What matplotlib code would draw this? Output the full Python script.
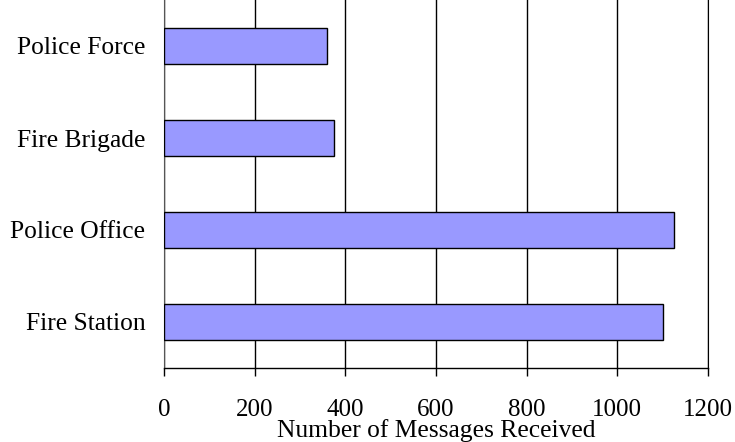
import matplotlib
matplotlib.use("Agg")
import matplotlib.pyplot as plt

# message counts per agent type (bottom to top)
categories = ["Fire Station", "Police Office", "Fire Brigade", "Police Force"]
messages = [1100, 1125, 375, 360]
xticks = [0, 200, 400, 600, 800, 1000, 1200]

plt.rcParams["font.family"] = ["Liberation Serif", "DejaVu Serif"]

fig = plt.figure(figsize=(7.35, 4.42), dpi=100)
ax = fig.add_axes([164 / 735, 1 - 368 / 442, 544 / 735, 368 / 442])

ax.barh(range(len(categories)), messages, height=0.4,
        color="#9999ff", edgecolor="black", linewidth=1.0, zorder=3)

ax.set_xlim(0, 1200)
ax.set_ylim(-0.5, len(categories) - 0.5)
ax.set_xticks(xticks)
ax.set_xticklabels([str(t) for t in xticks], fontsize=18)
ax.set_yticks(range(len(categories)))
ax.set_yticklabels(categories, fontsize=18.4)
ax.tick_params(axis="y", length=0, pad=13.5)
ax.tick_params(axis="x", direction="out", length=6, width=1, pad=16, colors="black")

ax.xaxis.grid(True, color="black", linewidth=1.0, zorder=0)
ax.spines["top"].set_visible(False)
ax.spines["right"].set_color("black")
ax.spines["left"].set_color("#555555")
ax.spines["bottom"].set_linewidth(1.0)

ax.set_xlabel("Number of Messages Received", fontsize=18.4, labelpad=-1)

fig.savefig("out.png", dpi=100)
